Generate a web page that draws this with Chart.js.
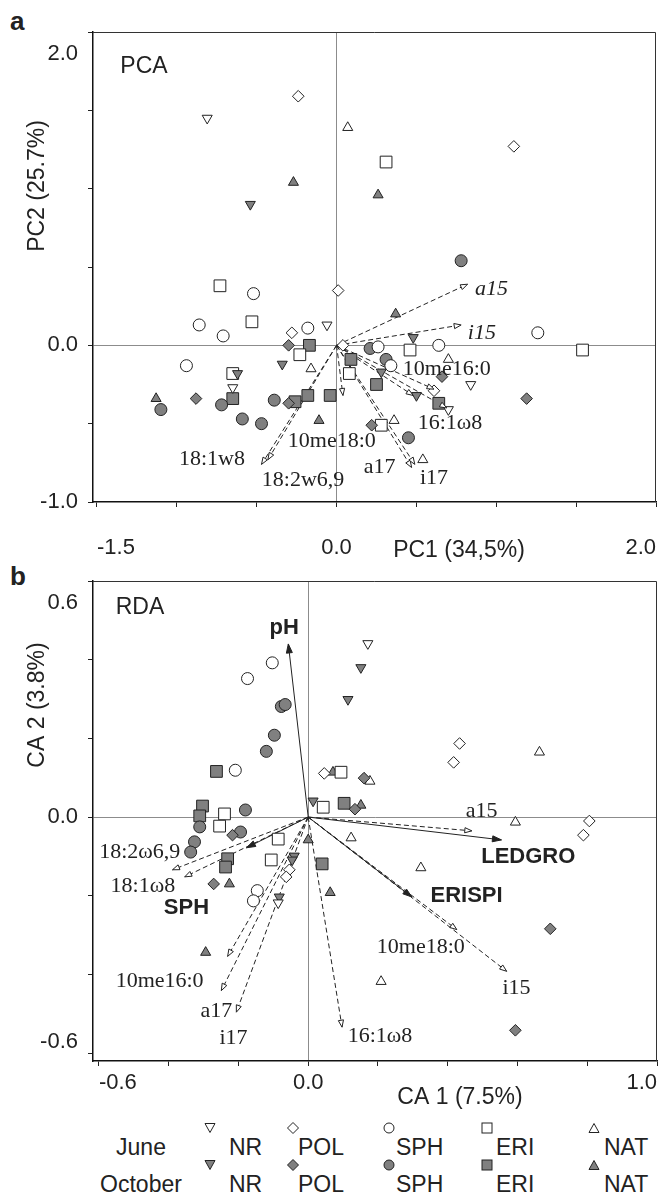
<!DOCTYPE html>
<html><head><meta charset="utf-8">
<script src="https://cdn.jsdelivr.net/npm/chart.js@4.4.1/dist/chart.umd.min.js"></script>
<style>
html,body{margin:0;padding:0;background:#fff;}
body{width:670px;height:1196px;position:relative;overflow:hidden;font-family:"Liberation Sans",Arial,sans-serif;color:#222;}
canvas{position:absolute;left:0;}
.pl{position:absolute;font-weight:bold;font-size:26px;line-height:26px;}
.lg{position:absolute;font-size:23px;line-height:24px;white-space:nowrap;}
.sym{position:absolute;}
</style></head><body>
<div class="pl" style="left:10px;top:8px">a</div>
<div class="pl" style="left:10px;top:563px">b</div>
<canvas id="pca" width="670" height="565" style="top:0"></canvas>
<canvas id="rda" width="670" height="560" style="top:560px"></canvas>
<div id="legend"></div>
<script>
/* ---- panel a : PCA scores (PC1, PC2) ---- */
const pcaJuneNR  = [[-0.81,1.45],[-0.06,0.13],[-0.65,-0.27],[0.84,-0.25],[0.70,-0.41]];
const pcaOctNR   = [[-0.54,0.90],[-0.34,-0.12],[-0.62,-0.18],[0.48,0.05],[0.28,-0.17],[0.50,-0.32]];
const pcaJunePOL = [[-0.24,1.59],[1.11,1.27],[0.01,0.35],[-0.28,0.08],[0.04,0.0],[0.61,-0.29]];
const pcaOctPOL  = [[-0.30,0.0],[-0.30,-0.37],[-0.88,-0.34],[0.22,-0.51],[0.66,-0.20],[1.19,-0.34]];
const pcaJuneSPH = [[-0.52,0.33],[-0.86,0.13],[-0.71,0.06],[-0.18,0.11],[-0.94,-0.13],[0.64,0.0],[1.26,0.08],[0.26,-0.01],[0.34,-0.13]];
const pcaOctSPH  = [[0.78,0.54],[-1.10,-0.41],[-0.72,-0.38],[-0.39,-0.35],[-0.59,-0.47],[-0.47,-0.50],[0.21,-0.02],[0.31,-0.09],[0.45,-0.59]];
const pcaJuneERI = [[0.31,1.17],[-0.73,0.38],[-0.53,0.15],[-0.23,-0.06],[-0.65,-0.18],[0.46,-0.03],[1.54,-0.03],[0.08,-0.18],[0.28,-0.51]];
const pcaOctERI  = [[-0.17,0.0],[-0.65,-0.34],[-0.26,-0.36],[-0.18,-0.32],[-0.04,-0.32],[0.09,-0.09],[0.25,-0.25],[0.64,-0.37]];
const pcaJuneNAT = [[0.07,1.39],[-0.16,-0.15],[0.70,-0.09],[0.36,-0.48],[0.54,-0.73]];
const pcaOctNAT  = [[-0.27,1.04],[0.26,0.96],[-1.13,-0.34],[-0.11,-0.48],[0.37,0.20]];

// fatty acid vectors (arrow tips)
const pcaVecX = [0.82,0.78,0.61,0.48,0.69,0.04,0.47,0.49,-0.47,-0.43];
const pcaVecY = [0.39,0.13,-0.28,-0.32,-0.40,-0.32,-0.78,-0.76,-0.76,-0.73];
const pcaLabText = ['a15','i15','10me16:0','16:1\u03c98','10me18:0','a17','i17','18:1w8','18:2w6,9'];
const pcaLabX = [0.97,0.91,0.69,0.71,-0.03,0.27,0.61,-0.78,-0.21];
const pcaLabY = [0.36,0.08,-0.15,-0.50,-0.61,-0.78,-0.85,-0.73,-0.86];

const pcaXTicks = [-1.5,-1.0,-0.5,0,0.5,1.0,1.5,2.0];
const pcaXLab = [-1.5,0,2.0];
const pcaYTicks = [-1.0,-0.5,0,0.5,1.0,1.5,2.0];
const pcaYLab = [-1.0,0,2.0];

/* ---- panel b : RDA (CA1, CA2) ---- */
const rdaJuneNR  = [[0.171,0.441],[-0.086,-0.218]];
const rdaOctNR   = [[0.151,0.380],[0.114,0.299],[-0.040,-0.099],[-0.046,-0.109],[-0.083,-0.203],[0.014,0.041]];
const rdaJunePOL = [[0.046,0.111],[0.434,0.187],[0.417,0.139],[0.806,-0.010],[0.789,-0.046],[-0.054,-0.134],[-0.063,-0.152]];
const rdaOctPOL  = [[0.160,0.099],[-0.217,-0.046],[-0.271,-0.170],[0.134,0.020],[0.694,-0.284],[0.594,-0.542]];
const rdaJuneSPH = [[-0.103,0.392],[-0.174,0.352],[-0.209,0.119],[-0.146,-0.187],[-0.157,-0.213]];
const rdaOctSPH  = [[-0.077,0.281],[-0.066,0.286],[-0.097,0.208],[-0.120,0.167],[-0.180,0.018],[-0.194,-0.038],[-0.311,-0.025],[-0.326,-0.063],[-0.337,-0.089]];
const rdaJuneERI = [[0.094,0.114],[-0.240,0.008],[-0.254,-0.023],[-0.086,-0.056],[-0.106,-0.109],[0.043,0.025]];
const rdaOctERI  = [[-0.263,0.116],[-0.303,0.028],[-0.311,0.003],[-0.231,-0.106],[-0.237,-0.127],[0.040,-0.119],[0.103,0.035]];
const rdaJuneNAT = [[0.177,0.091],[0.663,0.165],[0.594,-0.013],[0.123,-0.053],[0.323,-0.129],[0.209,-0.418]];
const rdaOctNAT  = [[0.071,0.114],[0.151,0.030],[0.0,-0.058],[0.063,-0.192],[-0.226,-0.170],[-0.294,-0.344]];

// environmental variables (solid arrows)
const rdaEnvText = ['pH','SPH','LEDGRO','ERISPI'];
const rdaEnvX = [-0.057,-0.177,0.554,0.297];
const rdaEnvY = [0.44,-0.078,-0.058,-0.203];
const rdaEnvLabX = [-0.069,-0.349,0.631,0.454];
const rdaEnvLabY = [0.481,-0.230,-0.101,-0.200];
// fatty acids (dashed arrows)
const rdaFaText = ['a15','i15','10me18:0','18:2\u03c96,9','18:1\u03c98','10me16:0','a17','i17','16:1\u03c98'];
const rdaFaX = [0.469,0.569,0.426,-0.389,-0.354,-0.231,-0.249,-0.206,0.097];
const rdaFaY = [-0.035,-0.392,-0.286,-0.134,-0.152,-0.354,-0.441,-0.496,-0.534];
const rdaFaLabX = [0.497,0.597,0.323,-0.483,-0.474,-0.426,-0.263,-0.214,0.206];
const rdaFaLabY = [0.015,-0.435,-0.332,-0.089,-0.177,-0.418,-0.494,-0.562,-0.557];

const rdaXTicks = [-0.6,-0.4,-0.2,0,0.2,0.4,0.6,0.8,1.0];
const rdaXLab = [-0.6,0,1.0];
const rdaYTicks = [-0.6,-0.4,-0.2,0,0.2,0.4,0.6];
const rdaYLab = [-0.6,0,0.6];

const GROUPS = ['NR','POL','SPH','ERI','NAT'];

/* ---- look ---- */
const SANS = '"Liberation Sans", Arial, Helvetica, sans-serif';
const SERIF = '"Liberation Serif", "Times New Roman", serif';
const INK = '#222';
const GREY = '#808080';
const STYLE = {
  NR:{ps:'triangle',rot:180,r:5.8}, POL:{ps:'rectRot',rot:0,r:5.8}, SPH:{ps:'circle',rot:0,r:6},
  ERI:{ps:'rect',rot:0,r:8.3}, NAT:{ps:'triangle',rot:0,r:5.8}
};

const pts = (a)=>a.map(p=>({x:p[0],y:p[1]}));

function groupSets(june, oct){
  const out=[];
  GROUPS.forEach(g=>{
    const s=STYLE[g];
    [[june[g],'#fff','June'],[oct[g],GREY,'October']].forEach(([d,fill,m])=>{
      out.push({label:m+' '+g,data:pts(d),pointStyle:s.ps,pointRotation:s.rot,pointRadius:s.r,pointHoverRadius:s.r,
        backgroundColor:fill,borderColor:INK,borderWidth:1,order:1});
    });
  });
  return out;
}
function vecSets(xs, ys, kind){
  return xs.map((x,i)=>({label:'vec',data:[{x:0,y:0},{x:x,y:ys[i]}],showLine:true,borderColor:INK,borderWidth:1,
    borderDash:kind==='open'?[5,3]:[],pointRadius:0,pointHoverRadius:0,order:5,arrow:kind}));
}

function biplot(labels, texts){
  return {
    id:'biplot',
    afterDatasetsDraw(chart){
      const {ctx,chartArea:a,scales:{x,y}}=chart;
      ctx.save();
      ctx.setLineDash([]);
      ctx.strokeStyle='#333'; ctx.lineWidth=1;
      ctx.beginPath(); ctx.moveTo(a.left,a.top+0.5); ctx.lineTo(a.right-0.5,a.top+0.5); ctx.lineTo(a.right-0.5,a.bottom); ctx.stroke();
      chart.data.datasets.forEach((ds,i)=>{
        if(!ds.arrow) return;
        const el=chart.getDatasetMeta(i).data, p0=el[0], p1=el[1];
        const ang=Math.atan2(p1.y-p0.y,p1.x-p0.x);
        const L=ds.arrow==='solid'?9:7, W=ds.arrow==='solid'?3:2.6;
        const c=Math.cos(ang), s=Math.sin(ang);
        ctx.beginPath();
        ctx.moveTo(p1.x,p1.y);
        ctx.lineTo(p1.x-L*c+W*s,p1.y-L*s-W*c);
        ctx.lineTo(p1.x-L*c-W*s,p1.y-L*s+W*c);
        ctx.closePath();
        ctx.fillStyle=ds.arrow==='solid'?INK:'#fff'; ctx.fill();
        ctx.strokeStyle=INK; ctx.lineWidth=1; ctx.stroke();
      });
      ctx.fillStyle=INK; ctx.textAlign='center'; ctx.textBaseline='middle';
      labels.forEach(l=>{ ctx.font=l.font; ctx.fillText(l.t,x.getPixelForValue(l.x),y.getPixelForValue(l.y)); });
      texts.forEach(t=>{
        ctx.save(); ctx.translate(t.px,t.py); if(t.rot) ctx.rotate(t.rot);
        ctx.font=t.font; ctx.fillText(t.t,0,0); ctx.restore();
      });
      ctx.restore();
    }
  };
}

function scaleOpts(o){
  const zero=(c)=>c.tick&&c.tick.value===0?'#8c8c8c':'rgba(0,0,0,0)';
  return {
    x:{type:'linear',min:o.xmin,max:o.xmax,
      afterBuildTicks:(s)=>{s.ticks=o.xticks.map(v=>({value:v}));},
      afterFit:(s)=>{s.height=o.xh;s.paddingLeft=0;s.paddingRight=0;},
      ticks:{callback:(v)=>o.xlab.includes(v)?v.toFixed(1):'',font:{family:SANS,size:22,lineHeight:1},color:INK,
        padding:o.xpad,align:'inner',maxRotation:0,autoSkip:false},
      grid:{color:zero,tickColor:INK,tickLength:5,lineWidth:1},
      border:{color:'#111',width:1.5}},
    y:{type:'linear',min:o.ymin,max:o.ymax,
      afterBuildTicks:(s)=>{s.ticks=o.yticks.map(v=>({value:v}));},
      afterFit:(s)=>{s.width=93;s.paddingTop=0;s.paddingBottom=0;},
      ticks:{callback:(v)=>{
          if(!o.ylab.includes(v)) return '';
          const t=v.toFixed(1);
          if(v===o.ymax_lab) return ['','',t];
          if(v===o.ymin_lab && o.shiftMin) return [t,''];
          return t;},
        font:{family:SANS,size:22,lineHeight:1},color:INK,padding:10,autoSkip:false},
      grid:{color:zero,tickColor:INK,tickLength:5,lineWidth:1},
      border:{color:'#111',width:1.5}}
  };
}

function makeChart(id, datasets, o, plug){
  return new Chart(document.getElementById(id),{
    type:'scatter',
    data:{datasets},
    options:{responsive:false,animation:false,events:[],
      layout:{padding:{left:0,right:o.padR,top:o.padT,bottom:0}},
      plugins:{legend:{display:false},tooltip:{enabled:false}},
      scales:scaleOpts(o)},
    plugins:[plug]
  });
}

/* ---- panel a ---- */
const pcaSets = vecSets(pcaVecX,pcaVecY,'open').concat(groupSets(
  {NR:pcaJuneNR,POL:pcaJunePOL,SPH:pcaJuneSPH,ERI:pcaJuneERI,NAT:pcaJuneNAT},
  {NR:pcaOctNR,POL:pcaOctPOL,SPH:pcaOctSPH,ERI:pcaOctERI,NAT:pcaOctNAT}));
const pcaLabels = pcaLabText.map((t,i)=>({t,x:pcaLabX[i],y:pcaLabY[i],font:(i<2?'italic ':'')+'22px '+SERIF}));
makeChart('pca',pcaSets,
  {xmin:-1.525,xmax:2.0,ymin:-1.0,ymax:2.0,xticks:pcaXTicks,yticks:pcaYTicks,xlab:pcaXLab,ylab:pcaYLab,
   ymax_lab:2.0,ymin_lab:-1.0,shiftMin:false,xh:63,xpad:30,padR:14,padT:32},
  biplot(pcaLabels,[
    {t:'PCA',px:144,py:67,font:'23px '+SANS},
    {t:'PC1 (34,5%)',px:459,py:551,font:'23px '+SANS},
    {t:'PC2 (25.7%)',px:38,py:186,rot:-Math.PI/2,font:'23px '+SANS}
  ]));

/* ---- panel b ---- */
const rdaSets = vecSets(rdaEnvX,rdaEnvY,'solid').concat(vecSets(rdaFaX,rdaFaY,'open')).concat(groupSets(
  {NR:rdaJuneNR,POL:rdaJunePOL,SPH:rdaJuneSPH,ERI:rdaJuneERI,NAT:rdaJuneNAT},
  {NR:rdaOctNR,POL:rdaOctPOL,SPH:rdaOctSPH,ERI:rdaOctERI,NAT:rdaOctNAT}));
const rdaLabels = rdaFaText.map((t,i)=>({t,x:rdaFaLabX[i],y:rdaFaLabY[i],font:'22px '+SERIF}))
  .concat(rdaEnvText.map((t,i)=>({t,x:rdaEnvLabX[i],y:rdaEnvLabY[i],font:'bold 22px '+SANS})));
makeChart('rda',rdaSets,
  {xmin:-0.617,xmax:1.0,ymin:-0.62,ymax:0.6,xticks:rdaXTicks,yticks:rdaYTicks,xlab:rdaXLab,ylab:rdaYLab,
   ymax_lab:0.6,ymin_lab:-0.6,shiftMin:true,xh:59,xpad:6,padR:13,padT:21},
  biplot(rdaLabels,[
    {t:'RDA',px:140,py:48,font:'23px '+SANS},
    {t:'CA 1 (7.5%)',px:460,py:538,font:'23px '+SANS},
    {t:'CA 2 (3.8%)',px:38,py:145,rot:-Math.PI/2,font:'23px '+SANS}
  ]));

/* ---- legend ---- */
const SHAPES = {
  NR:'<polygon points="1,1.5 11,1.5 6,10.5"/>',
  POL:'<polygon points="6,0.5 11.5,6 6,11.5 0.5,6"/>',
  SPH:'<circle cx="6" cy="6" r="5"/>',
  ERI:'<rect x="1" y="1" width="10" height="10"/>',
  NAT:'<polygon points="6,1.5 11,10.5 1,10.5"/>'
};
const symX=[210,293,389,487,594], txtX=[229,298,396,496,604];
const rows=[{name:'June',fill:'#fff',sy:1128,ty:1147},{name:'October',fill:GREY,sy:1165,ty:1184}];
const lg=document.getElementById('legend');
let html='';
rows.forEach(r=>{
  html+=`<div class="lg" style="left:81px;width:120px;text-align:center;top:${r.ty-12}px">${r.name}</div>`;
  GROUPS.forEach((g,i)=>{
    html+=`<svg class="sym" width="12" height="12" style="left:${symX[i]-6}px;top:${r.sy-6}px"><g fill="${r.fill}" stroke="${INK}" stroke-width="1">${SHAPES[g]}</g></svg>`;
    html+=`<div class="lg" style="left:${txtX[i]}px;top:${r.ty-12}px">${g}</div>`;
  });
});
lg.innerHTML=html;
</script>
</body></html>
